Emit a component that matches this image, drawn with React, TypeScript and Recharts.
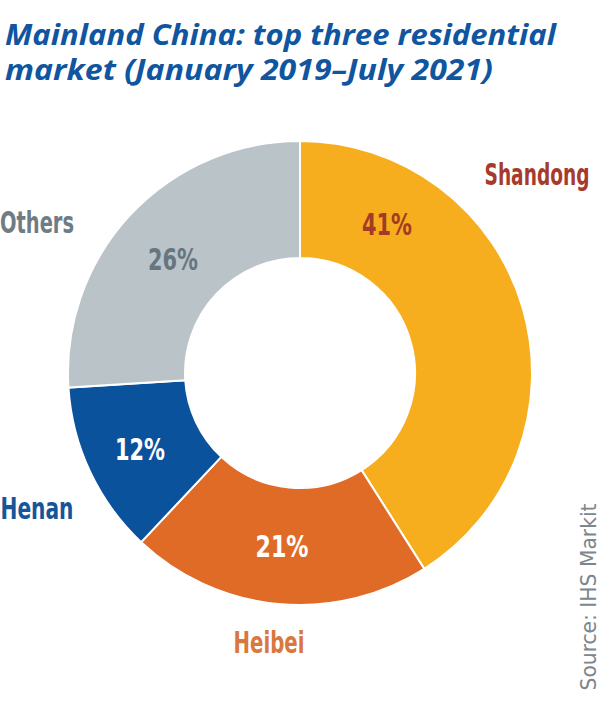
import { PieChart, Pie, Cell } from "recharts";

const regions = ["Shandong", "Heibei", "Henan", "Others"];
const shares = [41, 21, 12, 26];

const SLICE_COLORS = ["#f6ae1f", "#e06b26", "#0b529c", "#b9c3c8"];
const NAME_COLORS = ["#a43b2d", "#d9783e", "#17559b", "#6f7c84"];
const PCT_COLORS = ["#a43b26", "#ffffff", "#ffffff", "#667680"];

// label placement relative to the pie centre (baseline, text centre) + fitted widths
const NAME_LAYOUT = [
  { dx: 237, dy: -188, w: 105 },
  { dx: -31, dy: 280, w: 71 },
  { dx: -263, dy: 146, w: 73 },
  { dx: -263, dy: -140, w: 74 },
];
const PCT_LAYOUT = [
  { dx: 87, dy: -138, w: 50 },
  { dx: -18, dy: 184, w: 53 },
  { dx: -160, dy: 87, w: 50 },
  { dx: -127, dy: -103, w: 50 },
];

const data = regions.map((name, i) => ({ name, value: shares[i] }));

const CX = 300;
const CY = 373;
const LABEL_FONT = "'Liberation Sans Narrow', 'DejaVu Sans Condensed', sans-serif";

function renderLabel(props: any) {
  const i = props.index as number;
  const cx = typeof props.cx === "number" ? props.cx : CX;
  const cy = typeof props.cy === "number" ? props.cy : CY;
  const n = NAME_LAYOUT[i];
  const p = PCT_LAYOUT[i];
  return (
    <g key={`lbl-${i}`}>
      <text
        x={cx + p.dx}
        y={cy + p.dy}
        textAnchor="middle"
        fill={PCT_COLORS[i]}
        fontFamily={LABEL_FONT}
        fontWeight={700}
        fontSize={31}
        textLength={p.w}
        lengthAdjust="spacingAndGlyphs"
      >
        {`${shares[i]}%`}
      </text>
      <text
        x={cx + n.dx}
        y={cy + n.dy}
        textAnchor="middle"
        fill={NAME_COLORS[i]}
        fontFamily={LABEL_FONT}
        fontWeight={700}
        fontSize={30}
        textLength={n.w}
        lengthAdjust="spacingAndGlyphs"
      >
        {regions[i]}
      </text>
    </g>
  );
}

export default function App() {
  return (
    <div
      style={{
        position: "absolute",
        left: 0,
        top: 0,
        width: 600,
        height: 701,
        background: "#ffffff",
        overflow: "hidden",
      }}
    >
      <PieChart width={600} height={701} margin={{ top: 0, right: 0, bottom: 0, left: 0 }}>
        <Pie
          data={data}
          dataKey="value"
          nameKey="name"
          cx={CX}
          cy={CY}
          innerRadius={115}
          outerRadius={232}
          startAngle={90}
          endAngle={-270}
          stroke="#ffffff"
          strokeWidth={2}
          label={renderLabel}
          labelLine={false}
          isAnimationActive={false}
        >
          {data.map((d, i) => (
            <Cell key={d.name} fill={SLICE_COLORS[i]} />
          ))}
        </Pie>
      </PieChart>

      {/* title + source overlay */}
      <svg
        width={600}
        height={701}
        style={{ position: "absolute", left: 0, top: 0, pointerEvents: "none" }}
      >
        <g fill="#0f559f" fontFamily="'Open Sans', sans-serif" fontWeight={700} fontStyle="italic" fontSize={28}>
          <text x={5} y={45} textLength={551} lengthAdjust="spacingAndGlyphs">
            Mainland China: top three residential
          </text>
          <text x={5} y={80} textLength={488} lengthAdjust="spacingAndGlyphs">
            market (January 2019–July 2021)
          </text>
        </g>
        <text
          x={596}
          y={597}
          transform="rotate(-90 596 597)"
          textAnchor="middle"
          fill="#7d868b"
          fontFamily={LABEL_FONT}
          fontSize={22}
          textLength={187}
          lengthAdjust="spacingAndGlyphs"
        >
          Source: IHS Markit
        </text>
      </svg>
    </div>
  );
}
